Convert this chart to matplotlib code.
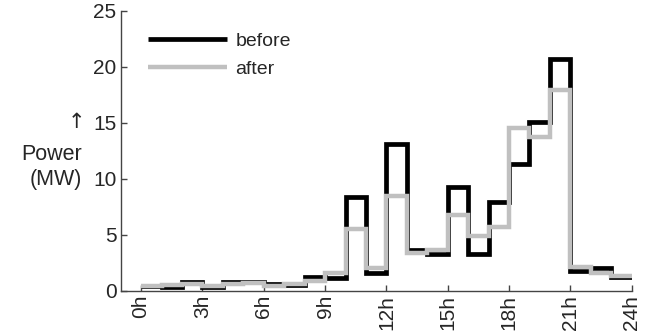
import numpy as np
import matplotlib
matplotlib.use("Agg")
import matplotlib.pyplot as plt

hours = np.arange(25)
tick_hours = [0, 3, 6, 9, 12, 15, 18, 21, 24]
tick_labels = ["0h", "3h", "6h", "9h", "12h", "15h", "18h", "21h", "24h"]

before = [0.4, 0.3, 0.8, 0.3, 0.75, 0.8, 0.6, 0.55, 1.25, 1.1,
          8.4, 1.55, 13.1, 3.65, 3.3, 9.3, 3.3, 7.9, 11.3, 15.1,
          20.7, 1.75, 2.0, 1.2]
after = [0.45, 0.5, 0.6, 0.45, 0.6, 0.65, 0.45, 0.6, 0.87, 1.55,
         5.5, 2.0, 8.5, 3.35, 3.6, 6.8, 4.85, 5.7, 14.5, 13.7,
         17.9, 2.1, 1.6, 1.3]

plt.rcParams['font.family'] = ['Liberation Sans', 'DejaVu Sans']
text_color = '#262626'

fig = plt.figure(figsize=(6.58, 3.32), dpi=100)
ax = fig.add_axes([0.1834, 0.1244, 0.960 - 0.1834, 0.967 - 0.1244])

ax.step(hours, np.append(before, before[-1]), where='post', color='black',
        lw=3.4, solid_joinstyle='miter', solid_capstyle='butt', label='before')
ax.step(hours, np.append(after, after[-1]), where='post', color='#c0c0c0',
        lw=3.2, solid_joinstyle='miter', solid_capstyle='butt', label='after')

ax.set_xlim(-1, 24)
ax.set_ylim(0, 25)
ax.set_xticks(tick_hours)
ax.set_xticklabels(tick_labels, rotation=90)
ax.set_yticks([0, 5, 10, 15, 20, 25])
ax.tick_params(direction='in', length=4, width=1, colors='#444444',
               labelsize=15, labelcolor=text_color, pad=3)
for s in ['top', 'right']:
    ax.spines[s].set_visible(False)
for s in ['left', 'bottom']:
    ax.spines[s].set_color('#444444')
    ax.spines[s].set_linewidth(1)

leg = ax.legend(loc='upper left', bbox_to_anchor=(0.053, 0.924), frameon=False,
                fontsize=14, handlelength=4.1, handletextpad=0.4,
                labelspacing=0.55, borderaxespad=0, borderpad=0)
for t in leg.get_texts():
    t.set_color(text_color)

fig.text(82 / 658, 1 - 167 / 332, "Power\n(MW)", ha='right', va='center',
         multialignment='right', fontsize=15.5, color=text_color, linespacing=1.2)
fig.text(76 / 658, 1 - 122 / 332, "\u2191", ha='center', va='center',
         fontsize=15, color=text_color, family=['DejaVu Sans'])

fig.savefig('out.png', dpi=100)
